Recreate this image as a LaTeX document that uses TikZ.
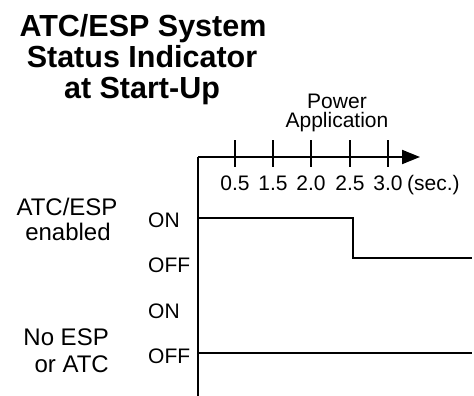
\documentclass[tikz,border=0pt]{standalone}
\usepackage{fontspec}
\setmainfont{Liberation Sans}
\usetikzlibrary{arrows.meta}
\begin{document}
\begin{tikzpicture}[x=1pt,y=-1pt,
  titlelbl/.style={font=\fontsize{30.5}{31}\selectfont\bfseries, inner sep=0pt, anchor=base},
  sidelbl/.style={font=\fontsize{24}{25}\selectfont, inner sep=0pt, anchor=base},
  statelbl/.style={font=\fontsize{21}{23}\selectfont, inner sep=0pt, anchor=base west},
  ticklbl/.style={font=\fontsize{21}{22}\selectfont, inner sep=0pt, anchor=base},
  axisline/.style={line width=2pt},
  sigline/.style={line width=2pt},
  tickline/.style={line width=1.2pt}]
\useasboundingbox (0,0) rectangle (474,396);
% title
\node[titlelbl] (t1) at (143,37) {ATC/ESP System};
\node[titlelbl] (t2) at (142,68) {Status Indicator};
\node[titlelbl] (t3) at (142,99) {at Start-Up};
% power application
\node[font=\fontsize{21}{19}\selectfont, inner sep=0pt, align=center, anchor=north] (pw) at (337,94) {Power\\Application};
% axes
\coordinate (o) at (198,157);
\coordinate (xend) at (420,157);
\coordinate (ybot) at (198,396);
\draw[axisline] (ybot) -- (o);
\draw[axisline,-{Triangle[length=18pt,width=14pt]}] (o) -- (xend);
% ticks
\foreach \x/\l [count=\i] in {235/0.5,273/1.5,311/2.0,350/2.5,388/3.0}{
  \coordinate (tt\i) at (\x,140);
  \coordinate (tb\i) at (\x,167);
  \draw[tickline] (tt\i) -- (tb\i);
  \node[ticklbl] (tl\i) at (\x,190) {\l};
}
\node[ticklbl,anchor=base west] (sec) at (407,190) {(sec.)};
% side labels
\node[sidelbl] (s1a) at (67,215) {ATC/ESP};
\node[sidelbl] (s1b) at (68,240) {enabled};
\node[sidelbl,anchor=base east] (s2a) at (109,345) {No ESP};
\node[sidelbl,anchor=base east] (s2b) at (109,372) {or ATC};
% state labels
\node[statelbl] (on1) at (148,227) {ON};
\node[statelbl] (off1) at (148,272) {OFF};
\node[statelbl] (on2) at (148,318) {ON};
\node[statelbl] (off2) at (148,363) {OFF};
% signals
\coordinate (a0) at (198,218);
\coordinate (a1) at (353,218);
\coordinate (a2) at (353,258);
\coordinate (a3) at (472,258);
\draw[sigline] (a0) -- (a1) -- (a2) -- (a3);
\coordinate (b0) at (198,353);
\coordinate (b1) at (472,353);
\draw[sigline] (b0) -- (b1);
\end{tikzpicture}
\end{document}
